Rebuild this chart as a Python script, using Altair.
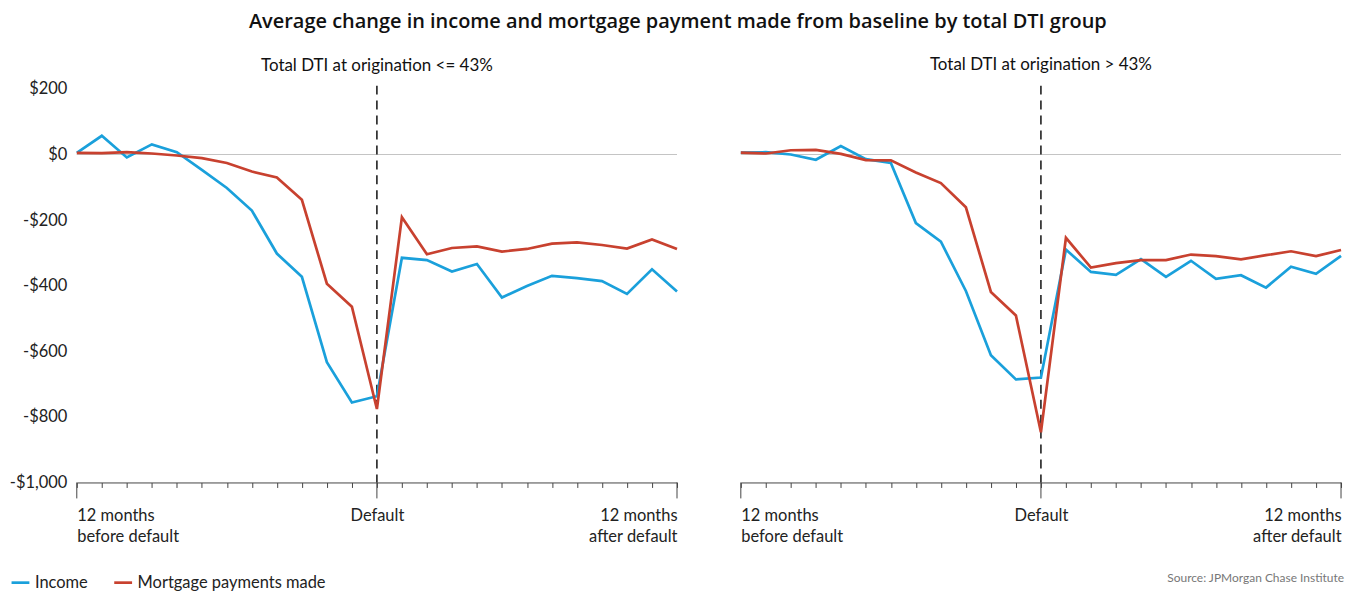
import altair as alt
import pandas as pd

months = list(range(-12, 13))
panel_titles = ["Total DTI at origination <= 43%", "Total DTI at origination > 43%"]
series_names = ["Income", "Mortgage payments made"]
series_colors = ["#1AA0DB", "#C8412F"]

income_low = [5, 57, -9, 31, 7, -47, -102, -171, -302, -373, -633, -756, -737,
              -315, -322, -357, -334, -436, -401, -370, -377, -386, -425, -350, -418]
mortgage_low = [5, 4, 7, 3, -3, -11, -26, -52, -70, -138, -394, -464, -776,
                -191, -304, -285, -280, -296, -288, -272, -268, -276, -287, -259, -288]
income_high = [6, 7, 0, -16, 26, -14, -26, -209, -266, -416, -612, -686, -680,
               -290, -358, -367, -319, -373, -324, -379, -368, -406, -342, -364, -309]
mortgage_high = [6, 3, 13, 14, 2, -17, -18, -55, -87, -161, -419, -491, -847,
                 -254, -345, -331, -322, -322, -305, -310, -320, -307, -295, -310, -291]

y_ticks = [-1000, -800, -600, -400, -200, 0, 200]
long_ticks = [-12, 0, 12]
source_text = "Source: JPMorgan Chase Institute"
main_title = "Average change in income and mortgage payment made from baseline by total DTI group"

FONT = "Lato"
TITLE_FONT = "Open Sans"
W, H = 602, 398


def make_df(inc, mort):
    rows = []
    for m, v in zip(months, inc):
        rows.append({"month": m, "value": v, "series": series_names[0]})
    for m, v in zip(months, mort):
        rows.append({"month": m, "value": v, "series": series_names[1]})
    return pd.DataFrame(rows)


label_expr = ("datum.value == -12 ? ['12 months', 'before default'] : "
              "datum.value == 0 ? 'Default' : "
              "datum.value == 12 ? ['12 months', 'after default'] : ''")

x_axis = alt.Axis(
    values=months, labelExpr=label_expr, title=None, grid=False,
    domainColor="#444", tickColor="#444", tickSize=5, tickWidth=1,
    labelFont=FONT, labelFontSize=16.5, labelColor="#222", labelPadding=20,
    labelBaseline="top", labelLineHeight=21, labelOverlap=False, labelFlush=False,
    labelAlign={"condition": [{"test": "datum.value < 0", "value": "left"},
                              {"test": "datum.value > 0", "value": "right"}],
                "value": "center"},
)

x_scale = alt.Scale(domain=[-12, 12], nice=False, zero=False)
y_scale = alt.Scale(domain=[-1000, 210], nice=False)


def panel(inc, mort, title, show_y, show_source, title_offset):
    df = make_df(inc, mort)
    if show_y:
        y_axis = alt.Axis(
            values=y_ticks, title=None, grid=False, ticks=False, domain=False,
            labelFont=FONT, labelFontSize=16.5, labelColor="#222", labelPadding=10,
            labelExpr="datum.value < 0 ? '-$' + format(-datum.value, ',') : '$' + format(datum.value, ',')",
        )
    else:
        y_axis = None

    zero = alt.Chart(pd.DataFrame({"v": [0]})).mark_rule(color="#C4C4C4", strokeWidth=1).encode(
        y=alt.Y("v:Q", scale=y_scale, axis=y_axis)
    )
    dash = alt.Chart(pd.DataFrame({"m": [0]})).mark_rule(
        color="#111", strokeWidth=1.5, strokeDash=[9, 6]
    ).encode(x=alt.X("m:Q", scale=x_scale, axis=x_axis))
    ticks = alt.Chart(pd.DataFrame({"m": long_ticks})).mark_rule(color="#444", strokeWidth=1).encode(
        x=alt.X("m:Q", scale=x_scale, axis=x_axis),
        y=alt.value(H), y2=alt.value(H + 16),
    )
    lines = alt.Chart(df).mark_line(strokeWidth=2.7).encode(
        x=alt.X("month:Q", scale=x_scale, axis=x_axis),
        y=alt.Y("value:Q", scale=y_scale, axis=y_axis),
        color=alt.Color(
            "series:N",
            scale=alt.Scale(domain=series_names, range=series_colors),
            legend=alt.Legend(
                title=None, orient="none", direction="horizontal",
                legendX=-67, legendY=488, symbolType="stroke", symbolStrokeWidth=2.7,
                symbolSize=320, labelFont=FONT, labelFontSize=16.5, labelColor="#222",
                columnPadding=20, symbolOffset=0, labelLimit=0,
            ),
        ),
    )
    layers = [zero, dash, ticks, lines]
    if show_source:
        src = alt.Chart(pd.DataFrame({"t": [source_text]})).mark_text(
            align="right", baseline="middle", font=FONT, fontSize=12, color="#777"
        ).encode(text="t:N", x=alt.value(W + 3), y=alt.value(H + 96))
        layers.append(src)
    return alt.layer(*layers).properties(
        width=W, height=H,
        title=alt.TitleParams(title, font=FONT, fontSize=17, fontWeight="normal",
                              color="#111", anchor="middle", offset=title_offset),
    )


left = panel(income_low, mortgage_low, panel_titles[0], True, False, 6)
right = panel(income_high, mortgage_high, panel_titles[1], False, True, 11)

chart = alt.hconcat(left, right, spacing=64, bounds="flush").properties(
    title=alt.TitleParams(main_title, font=TITLE_FONT, fontSize=20, fontWeight=600,
                          color="#111", anchor="middle", offset=24),
    padding={"left": 1, "top": 3, "right": 4, "bottom": 0},
).configure_view(stroke=None)

chart.save("out.html", embed_options={"renderer": "svg", "actions": False})
